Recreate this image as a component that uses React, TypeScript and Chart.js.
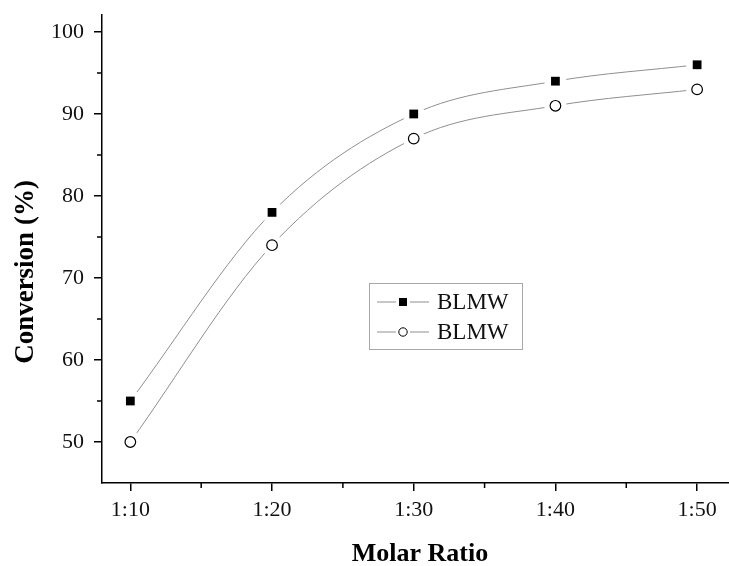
import React, { useEffect, useRef } from "react";
import { Chart, registerables } from "chart.js";

Chart.register(...registerables);

const categories = ["1:10", "1:20", "1:30", "1:40", "1:50"];
const seriesA = [55, 78, 90, 94, 96];
const seriesB = [50, 74, 87, 91, 93];
const seriesNames = ["BLMW", "BLMW"];
const yMajorTicks = [50, 60, 70, 80, 90, 100];
const yMinorTicks = [55, 65, 75, 85, 95];
const xTitle = "Molar Ratio";
const yTitle = "Conversion (%)";

const SERIF = "'Liberation Serif', 'Times New Roman', serif";
const LINE_GRAY = "#8f8f8f";

function toPoints(vals: number[]) {
  return vals.map((v, i) => ({ x: i + 1, y: v }));
}

const overlayPlugin = {
  id: "overlay",
  afterDraw(chart: any) {
    const ctx = chart.ctx;
    const xs = chart.scales.x;
    const ys = chart.scales.y;
    const area = chart.chartArea;
    ctx.save();
    // minor ticks
    ctx.strokeStyle = "#000";
    ctx.lineWidth = 1.5;
    ctx.beginPath();
    for (let i = 0; i < categories.length - 1; i++) {
      const px = xs.getPixelForValue(i + 1.5);
      ctx.moveTo(px, area.bottom);
      ctx.lineTo(px, area.bottom + 5);
    }
    yMinorTicks.forEach((v) => {
      const py = ys.getPixelForValue(v);
      ctx.moveTo(area.left, py);
      ctx.lineTo(area.left - 5, py);
    });
    ctx.stroke();

    // axis titles
    ctx.fillStyle = "#000";
    ctx.font = `bold 26px ${SERIF}`;
    ctx.textAlign = "center";
    ctx.textBaseline = "alphabetic";
    ctx.fillText(xTitle, 420, 561);
    ctx.save();
    ctx.translate(33, 272);
    ctx.rotate(-Math.PI / 2);
    ctx.font = `bold 27px ${SERIF}`;
    ctx.fillText(yTitle, 0, 0);
    ctx.restore();

    // legend
    const bx = 369, by = 283, bw = 153, bh = 66;
    ctx.strokeStyle = "#a8a8a8";
    ctx.lineWidth = 1;
    ctx.strokeRect(bx + 0.5, by + 0.5, bw, bh);
    const rows = [302, 332];
    rows.forEach((ry, idx) => {
      ctx.strokeStyle = LINE_GRAY;
      ctx.lineWidth = 1;
      ctx.beginPath();
      ctx.moveTo(377, ry);
      ctx.lineTo(396, ry);
      ctx.moveTo(410, ry);
      ctx.lineTo(429, ry);
      ctx.stroke();
      if (idx === 0) {
        ctx.fillStyle = "#000";
        ctx.fillRect(403 - 4, ry - 4, 8, 8);
      } else {
        ctx.fillStyle = "#fff";
        ctx.strokeStyle = "#000";
        ctx.beginPath();
        ctx.arc(403, ry, 4.2, 0, Math.PI * 2);
        ctx.fill();
        ctx.stroke();
      }
      ctx.fillStyle = "#111";
      ctx.font = `23px ${SERIF}`;
      ctx.textAlign = "left";
      ctx.textBaseline = "middle";
      ctx.fillText(seriesNames[idx], 437, ry + 1);
    });
    ctx.restore();
  },
};

export default function App() {
  const canvasRef = useRef<HTMLCanvasElement | null>(null);

  useEffect(() => {
    const canvas = canvasRef.current;
    if (!canvas) return;
    const ptsA = toPoints(seriesA);
    const ptsB = toPoints(seriesB);
    const lineDs = (data: any) => ({
      data,
      borderColor: LINE_GRAY,
      borderWidth: 1,
      pointRadius: 0,
      cubicInterpolationMode: "monotone",
      fill: false,
      order: 3,
    });
    const maskDs = (data: any) => ({
      data,
      showLine: false,
      pointRadius: 11,
      pointBackgroundColor: "#fff",
      pointBorderWidth: 0,
      pointBorderColor: "#fff",
      order: 2,
    });
    const chart = new Chart(canvas, {
      type: "line",
      data: {
        datasets: [
          lineDs(ptsA),
          lineDs(ptsB),
          maskDs(ptsA),
          maskDs(ptsB),
          {
            data: ptsA,
            showLine: false,
            pointStyle: "rect",
            pointRadius: 6.2,
            pointBackgroundColor: "#000",
            pointBorderColor: "#000",
            pointBorderWidth: 0,
            order: 1,
          },
          {
            data: ptsB,
            showLine: false,
            pointStyle: "circle",
            pointRadius: 5.3,
            pointBackgroundColor: "#fff",
            pointBorderColor: "#000",
            pointBorderWidth: 1.2,
            order: 1,
          },
        ] as any,
      },
      options: {
        animation: false,
        responsive: false,
        maintainAspectRatio: false,
        layout: { autoPadding: false, padding: { top: 15, left: 0, right: 0, bottom: 0 } },
        plugins: {
          legend: { display: false },
          tooltip: { enabled: false },
        },
        scales: {
          x: {
            type: "linear",
            min: 0.8,
            max: 5.225,
            afterBuildTicks: (scale: any) => {
              scale.ticks = categories.map((_, i) => ({ value: i + 1 }));
            },
            afterFit: (scale: any) => {
              scale.height = 83;
              scale.paddingLeft = 0;
              scale.paddingRight = 0;
            },
            ticks: {
              callback: (v: any) => categories[Math.round(Number(v)) - 1] ?? "",
              font: { family: SERIF, size: 22 },
              color: "#111",
              padding: 6,
              maxRotation: 0,
              autoSkip: false,
            },
            grid: {
              display: true,
              drawOnChartArea: false,
              drawTicks: true,
              tickLength: 8,
              color: "#000",
              lineWidth: 1.5,
            },
            border: { display: true, color: "#000", width: 1.5 },
          },
          y: {
            type: "linear",
            min: 45,
            max: 102.07,
            afterBuildTicks: (scale: any) => {
              scale.ticks = yMajorTicks.map((v) => ({ value: v }));
            },
            afterFit: (scale: any) => {
              scale.width = 102;
              scale.paddingTop = 0;
              scale.paddingBottom = 0;
            },
            ticks: {
              font: { family: SERIF, size: 22 },
              color: "#111",
              padding: 10,
              autoSkip: false,
            },
            grid: {
              display: true,
              drawOnChartArea: false,
              drawTicks: true,
              tickLength: 8,
              color: "#000",
              lineWidth: 1.5,
            },
            border: { display: true, color: "#000", width: 1.5 },
          },
        },
      } as any,
      plugins: [overlayPlugin],
    });
    return () => chart.destroy();
  }, []);

  return (
    <div style={{ position: "fixed", left: 0, top: 0, width: 729, height: 566, background: "#fff" }}>
      <canvas ref={canvasRef} width={729} height={566} style={{ width: 729, height: 566, display: "block" }} />
    </div>
  );
}
